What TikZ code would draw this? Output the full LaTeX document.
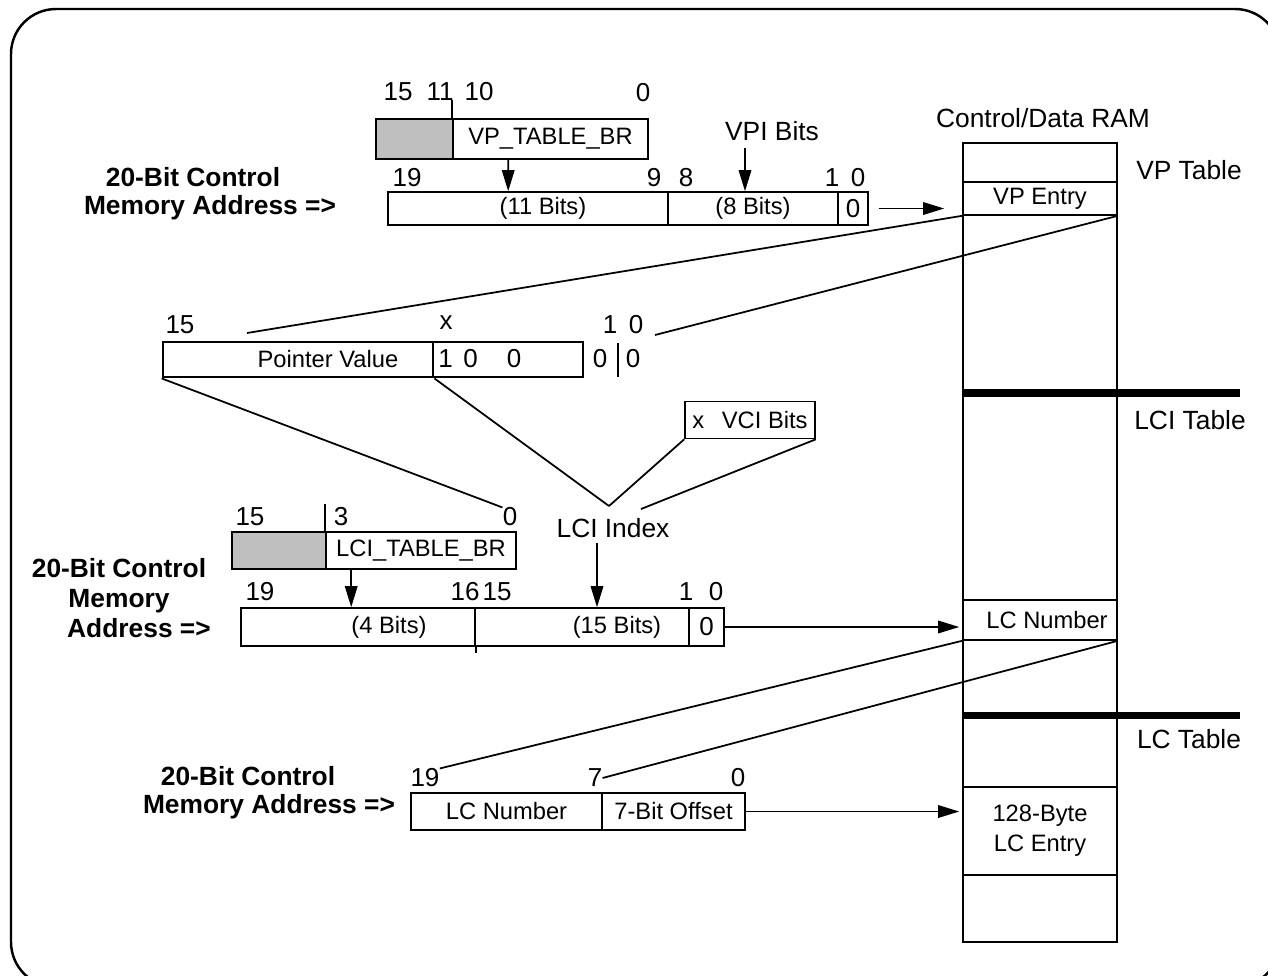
\documentclass[tikz,border=0pt]{standalone}
\usepackage{fontspec}
\setmainfont{Liberation Sans}
\usetikzlibrary{arrows.meta}

\begin{document}
\begin{tikzpicture}[x=0.02cm, y=-0.02cm,
    field/.style={draw, line width=0.9pt, minimum height=0.66cm, inner sep=0pt, font=\fontsize{13.5}{16}\selectfont},
    shade/.style={field, fill=black!25},
    txt/.style={inner sep=0pt, font=\fontsize{13.5}{16}\selectfont},
    num/.style={inner sep=0pt, font=\fontsize{14.8}{16}\selectfont},
    big/.style={inner sep=0pt, font=\fontsize{15}{18}\selectfont},
    head/.style={inner sep=0pt, align=center, font=\fontsize{15}{16}\selectfont\bfseries},
    arr/.style={-{Triangle[length=0.42cm, width=0.25cm]}, line width=0.9pt},
    fan/.style={line width=1pt},
    sep/.style={line width=4pt}
]
    \useasboundingbox (0,0) rectangle (1268,975);
    \draw[line width=1.4pt, rounded corners=0.9cm] (11,9) rectangle (1280,987);

    % Control/Data RAM
    \node[draw, line width=0.9pt, minimum width=3.08cm, minimum height=15.98cm, inner sep=0pt] (ram) at (1040,542.5) {};
    \node[big] (ramlbl) at (1043,118) {Control/Data RAM};
    \node[field, minimum width=3.08cm, minimum height=0.66cm] (vpe) at (1040,198.5) {VP Entry};
    \node[field, minimum width=3.08cm, minimum height=0.8cm] (lcn) at (1040,620) {\hspace{0.28cm}LC Number};
    \node[field, minimum width=3.08cm, minimum height=1.76cm, align=center, font=\fontsize{13.5}{17}\selectfont] (lce) at (1040,831) {128-Byte\\LC Entry};
    \draw[sep] (963,393) -- (1240,393);
    \draw[sep] (963,715) -- (1240,715);
    \node[big] (vptab) at (1189,170) {VP Table};
    \node[big] (lcitab) at (1190,420) {LCI Table};
    \node[big] (lctab) at (1189,739) {LC Table};

    % VP table base register
    \node[num] (b15) at (398,92) {15};
    \node[num] (b11) at (440,92) {11};
    \node[num] (b10) at (479,92) {10};
    \node[num] (b0) at (643,93) {0};
    \node[shade, minimum width=1.54cm, minimum height=0.8cm] (sh1) at (414.5,139) {};
    \node[field, minimum width=3.9cm, minimum height=0.8cm] (vpbr) at (550.5,139) {VP\_TABLE\_BR};
    \draw[line width=0.9pt] (vpbr.north west) -- ++(0,-18);
    \node[big] (vpi) at (772,131) {VPI Bits};

    % first address
    \node[num] (e19) at (407,178) {19};
    \node[num] (e9) at (654,178) {9};
    \node[num] (e8) at (686,178) {8};
    \node[num] (e1) at (832,178) {1};
    \node[num] (e0) at (858,178) {0};
    \node[field, minimum width=5.6cm, label={[txt, xshift=0.3cm]center:{(11 Bits)}}] (a11) at (528,208.5) {};
    \node[field, minimum width=3.4cm] (a12) at (753,208.5) {(8 Bits)};
    \node[field, minimum width=0.6cm, font=\fontsize{14.8}{16}\selectfont] (a13) at (853,208.5) {0};
    \node[head] (hd1) at (210,194) {20-Bit Control\hspace*{0.68cm}\\Memory Address =>};
    \draw[arr] ([xshift=1.12cm]vpbr.south west) -- ([xshift=2.42cm]a11.north west);
    \draw[arr, shorten <=0.14cm] ([xshift=-0.54cm]vpi.south) -- ([xshift=-0.54cm]vpi.south |- a12.north);
    \draw[arr, shorten <=0.2cm, shorten >=0.36cm] (a13.east) -- (a13.east -| ram.west);

    % VP entry
    \coordinate (pvl) at (247,333);
    \coordinate (pvr) at (655,335);
    \draw[fan] (vpe.south west) -- (pvl);
    \draw[fan] (vpe.south east) -- (pvr);
    \node[num] (p15) at (180,325) {15};
    \node[num] (px) at (446,323) {x};
    \node[num] (p1) at (610,325) {1};
    \node[num] (p0) at (636,325) {0};
    \node[field, line width=1.6pt, minimum width=5.4cm, minimum height=0.7cm, label={[txt, xshift=0.6cm]center:Pointer Value}] (pva) at (298,359.5) {};
    \node[field, line width=1.6pt, minimum width=3.0cm, minimum height=0.7cm] (pvb) at (508,359.5) {};
    \node[num, anchor=west] (pvbits) at (438,359) {1\hspace{6pt}0\hspace{16.5pt}0};
    \node[num] (z1) at (600,359) {0};
    \node[num] (z0) at (633,359) {0};
    \draw[line width=1.6pt] (618,343) -- (618,377);

    % LCI index
    \node[num] (l0) at (510,517) {0};
    \coordinate (apex) at (609,506);
    \coordinate (apexr) at (641,509);
    \draw[fan] (pva.south west) -- (l0.north west);
    \draw[fan] (pva.south east) -- (apex);
    \node[field, minimum width=2.6cm, minimum height=0.74cm] (vci) at (750,420) {x\hspace{10pt}VCI Bits};
    \draw[fan] (vci.south west) -- (apex);
    \draw[fan] (vci.south east) -- (apexr);
    \node[big] (lcii) at (613,528) {LCI Index};

    % LCI table base register
    \node[num] (c15) at (250,517) {15};
    \node[num] (c3) at (341,517) {3};
    \node[shade, minimum width=1.88cm, minimum height=0.74cm] (sh2) at (279,550.5) {};
    \node[field, minimum width=3.8cm, minimum height=0.74cm] (lcibr) at (421,550.5) {LCI\_TABLE\_BR};
    \draw[line width=0.9pt] (lcibr.north west) -- ++(0,-27);

    % second address
    \node[num] (f19) at (260,592) {19};
    \node[num] (f16) at (465,592) {16};
    \node[num] (f15) at (497,592) {15};
    \node[num] (f1) at (686,592) {1};
    \node[num] (f0) at (716,592) {0};
    \node[field, minimum width=4.68cm, minimum height=0.76cm, label={[txt, xshift=0.62cm]center:{(4 Bits)}}] (a21) at (358,627) {};
    \node[field, minimum width=4.28cm, minimum height=0.76cm, label={[txt, xshift=0.7cm]center:{(15 Bits)}}] (a22) at (582,627) {};
    \node[field, minimum width=0.7cm, minimum height=0.76cm, font=\fontsize{14.8}{16}\selectfont] (a23) at (706.5,627) {0};
    \draw[line width=0.9pt] (a21.south east) -- ++(0,6);
    \node[head, font=\fontsize{15}{17}\selectfont\bfseries] (hd2) at (119,598) {20-Bit Control\\Memory\\\hspace*{0.8cm}Address =>};
    \draw[arr] ([xshift=0.52cm]lcibr.south west) -- ([xshift=0.52cm]lcibr.south west |- a21.north);
    \draw[arr, shorten <=0.1cm] ([xshift=-0.32cm]lcii.south) -- ([xshift=-0.32cm]lcii.south |- a22.north);
    \draw[arr, shorten >=0.06cm] (a23.east) -- (a23.east -| lcn.west);

    % LC entry address
    \node[num] (d19) at (425,778) {19};
    \node[num] (d7) at (595,778) {7};
    \node[num] (d0) at (738,778) {0};
    \draw[fan] (lcn.south west) -- (d19.north east);
    \draw[fan] (lcn.south east) -- (d7.east);
    \node[field, minimum width=3.82cm, minimum height=0.74cm] (a31) at (506.5,811.5) {LC Number};
    \node[field, minimum width=2.86cm, minimum height=0.74cm] (a32) at (673.5,811.5) {7-Bit Offset};
    \node[head] (hd3) at (269,793) {20-Bit Control\hspace*{0.84cm}\\Memory Address =>};
    \draw[arr, shorten >=0.06cm] (a32.east) -- (a32.east -| lce.west);
\end{tikzpicture}
\end{document}
